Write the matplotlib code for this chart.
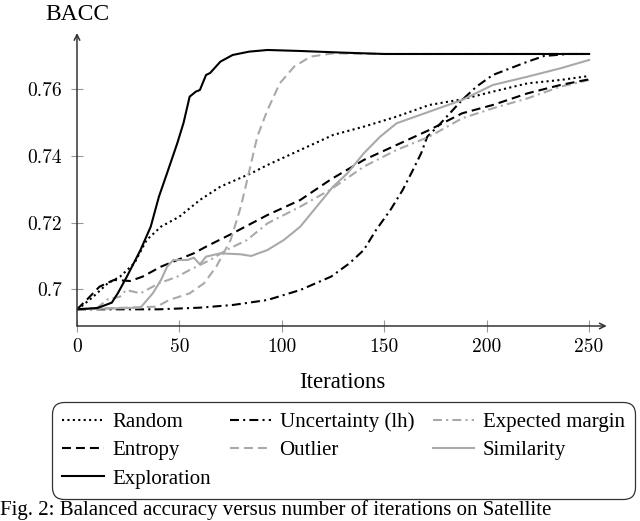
import matplotlib
matplotlib.use('Agg')
import matplotlib.pyplot as plt

# BACC vs. iterations
rnd_x = [0, 2, 8, 15, 21, 28, 34, 41, 50, 60, 70, 85, 93, 109, 125, 140, 156, 172, 188, 203, 220, 236, 250]
rnd_y = [0.694, 0.6948, 0.6978, 0.7018, 0.7038, 0.7078, 0.7148, 0.7188, 0.7218, 0.7268, 0.7308, 0.7348,
         0.7373, 0.7418, 0.7463, 0.7488, 0.7518, 0.7553, 0.7570, 0.7593, 0.7618, 0.7628, 0.7640]

unc_x = [0, 40, 60, 76, 93, 109, 124, 133, 140, 146, 153, 159, 164, 168, 171, 176, 182, 188, 195, 203,
         220, 228, 240, 250]
unc_y = [0.694, 0.694, 0.6945, 0.6953, 0.6968, 0.6998, 0.7038, 0.7078, 0.7118, 0.7178, 0.7238, 0.7298,
         0.7358, 0.7408, 0.7458, 0.7488, 0.7528, 0.7568, 0.7608, 0.7643, 0.7683, 0.7700, 0.7706, 0.7706]

em_x = [0, 10, 15, 21, 24, 31, 40, 49, 55, 65, 73, 83, 93, 109, 124, 140, 156, 172, 188, 203, 220, 236, 250]
em_y = [0.694, 0.6945, 0.697, 0.6978, 0.6998, 0.6988, 0.7018, 0.7038, 0.7058, 0.7088, 0.7118, 0.7148,
        0.7198, 0.7248, 0.7300, 0.7368, 0.7418, 0.7458, 0.7513, 0.7543, 0.7573, 0.7608, 0.7628]

ent_x = [0, 5, 11, 18, 26, 32, 41, 49, 57, 63, 76, 93, 109, 124, 140, 156, 172, 188, 203, 220, 236, 250]
ent_y = [0.694, 0.697, 0.7008, 0.7028, 0.7025, 0.7038, 0.7068, 0.7088, 0.7108, 0.7128, 0.7168, 0.7223,
         0.7268, 0.7330, 0.7388, 0.7433, 0.7478, 0.7528, 0.7553, 0.7588, 0.7613, 0.7630]

out_x = [0, 39, 45, 55, 62, 68, 75, 80, 85, 88, 93, 99, 106, 114, 125, 150, 250]
out_y = [0.694, 0.6948, 0.6968, 0.6988, 0.7018, 0.7068, 0.7148, 0.7248, 0.7378, 0.7458, 0.7538, 0.7618,
         0.7668, 0.7698, 0.7708, 0.7706, 0.7706]

sim_x = [0, 31, 37, 41, 44, 47, 54, 57, 60, 63, 70, 80, 85, 93, 101, 109, 117, 125, 132, 140, 148, 156,
         172, 188, 203, 220, 236, 250]
sim_y = [0.694, 0.6945, 0.6988, 0.7028, 0.7068, 0.7088, 0.7088, 0.7095, 0.7075, 0.7098, 0.7108, 0.7105,
         0.7100, 0.7118, 0.7148, 0.7188, 0.7248, 0.7308, 0.7348, 0.7408, 0.7458, 0.7498, 0.7533, 0.7568,
         0.7613, 0.7638, 0.7663, 0.7688]

exp_x = [0, 10, 17, 20, 24, 31, 36, 40, 44, 49, 52, 55, 58, 60, 63, 65, 70, 76, 84, 93, 109, 130, 150, 200, 250]
exp_y = [0.694, 0.6944, 0.696, 0.6989, 0.7034, 0.7118, 0.7188, 0.7278, 0.7349, 0.7439, 0.7499, 0.7578,
         0.7593, 0.7598, 0.7643, 0.7649, 0.7683, 0.7703, 0.7713, 0.7718, 0.7715, 0.7710, 0.7706, 0.7706, 0.7706]

x_ticks = [0, 50, 100, 150, 200, 250]
y_ticks = [0.70, 0.72, 0.74, 0.76]
y_ticklabels = ['0.7', '0.72', '0.74', '0.76']

gray = '#a9a9a9'
lw = 1.5

fig = plt.figure(figsize=(6.4, 5.21), dpi=100)
ax = fig.add_axes([0.1203, 0.3743, 0.8277, 0.5624])

h_rnd, = ax.plot(rnd_x, rnd_y, color='black', lw=lw, linestyle=(0, (1, 1.6)), label='Random')
h_unc, = ax.plot(unc_x, unc_y, color='black', lw=lw, linestyle=(0, (4.3, 2, 1, 2)), label='Uncertainty (lh)')
h_em, = ax.plot(em_x, em_y, color=gray, lw=lw, linestyle=(0, (4.3, 2, 1, 2)), label='Expected margin')
h_ent, = ax.plot(ent_x, ent_y, color='black', lw=lw, linestyle=(0, (4.3, 2.4)), label='Entropy')
h_out, = ax.plot(out_x, out_y, color=gray, lw=lw, linestyle=(0, (4.3, 2.4)), label='Outlier')
h_sim, = ax.plot(sim_x, sim_y, color=gray, lw=lw, label='Similarity')
h_exp, = ax.plot(exp_x, exp_y, color='black', lw=lw, label='Exploration')

ax.set_xlim(0, 258.6)
ax.set_ylim(0.689, 0.7769)
for s in ax.spines.values():
    s.set_visible(False)

axis_col = '#333333'
ax.annotate('', xy=(1, 0), xytext=(0, 0), xycoords='axes fraction',
            arrowprops=dict(arrowstyle='->', lw=1.1, color=axis_col, shrinkA=0, shrinkB=0))
ax.annotate('', xy=(0, 1), xytext=(0, 0), xycoords='axes fraction',
            arrowprops=dict(arrowstyle='->', lw=1.1, color=axis_col, shrinkA=0, shrinkB=0))

ax.set_xticks(x_ticks)
ax.set_yticks(y_ticks)
ax.set_yticklabels(y_ticklabels)
ax.tick_params(axis='both', direction='inout', length=8, width=0.8, color='#999999',
               labelsize=14)
ax.tick_params(axis='y', pad=6.8)
ax.tick_params(axis='x', pad=4.6)
for lab in ax.get_xticklabels() + ax.get_yticklabels():
    lab.set_family('cmr10')

serif = 'Liberation Serif'
fig.text(77 / 640, 1 - 14 / 521, 'BACC', family=serif, fontsize=17, ha='center', va='center')
fig.text(342 / 640, 1 - 382 / 521, 'Iterations', family=serif, fontsize=16.5, ha='center', va='center')

handles = [h_rnd, h_ent, h_exp, h_unc, h_out, h_em, h_sim]
leg = fig.legend(handles=handles, ncol=3, loc='upper center', bbox_to_anchor=(343.5 / 640, 1 - 406 / 521),
                 prop={'family': serif, 'size': 15}, frameon=True, fancybox=True,
                 handlelength=2.0, handletextpad=0.4, columnspacing=0.9,
                 labelspacing=0.42, borderpad=0.3, borderaxespad=0)
leg.get_frame().set_edgecolor('black')
leg.get_frame().set_linewidth(0.9)
leg.get_frame().set_boxstyle('round,pad=0.2,rounding_size=0.6')

fig.text(0.0, 1 - 520 / 521, 'Fig. 2: Balanced accuracy versus number of iterations on Satellite',
         family=serif, fontsize=15, ha='left', va='bottom')

fig.savefig('out.png', dpi=100)
